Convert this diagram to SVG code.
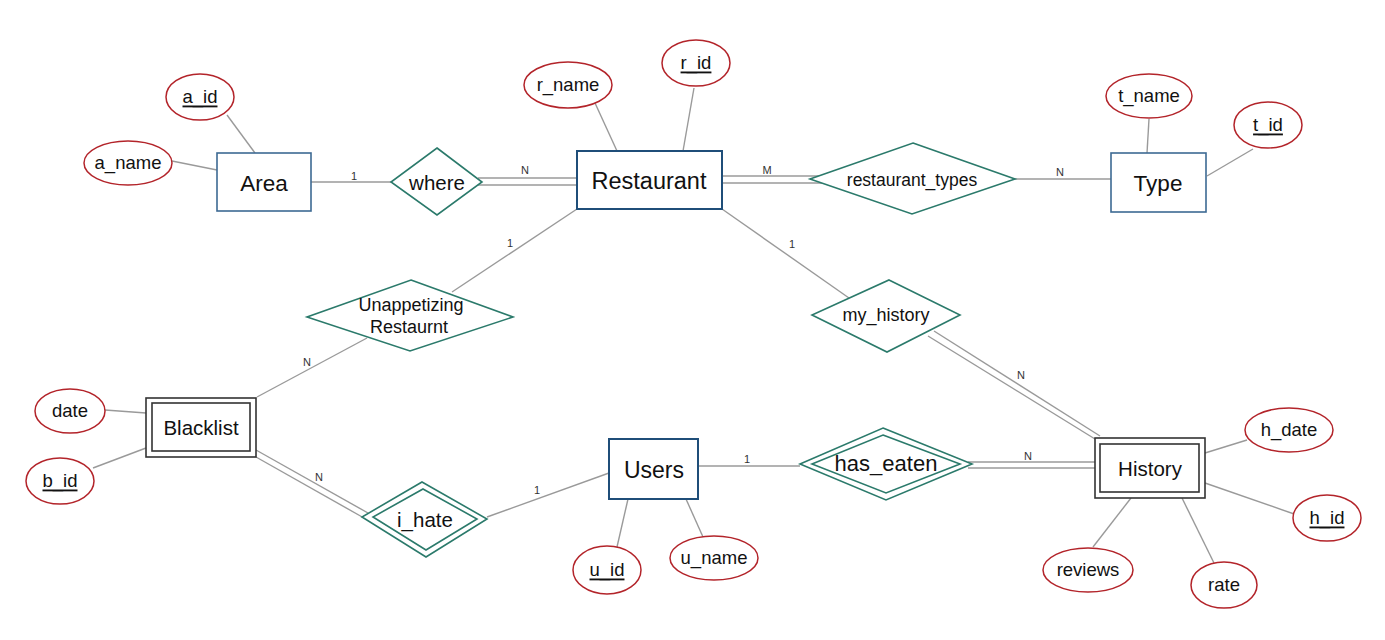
<svg xmlns="http://www.w3.org/2000/svg" width="1385" height="640" viewBox="0 0 1385 640">
<style>
  text { font-family: "Liberation Sans", Arial, sans-serif; fill: #111; text-anchor: middle; dominant-baseline: central; }
  .ent { fill: #fff; stroke: #3d6a93; stroke-width: 1.6; }
  .ent2 { fill: #fff; stroke: #1f4e79; stroke-width: 2; }
  .weak { fill: #fff; stroke: #333; stroke-width: 1.6; }
  .attr { fill: #fff; stroke: #b3242a; stroke-width: 1.5; }
  .rel { fill: #fff; stroke: #2b7a6b; stroke-width: 1.6; }
  .ln { stroke: #9a9a9a; stroke-width: 1.4; fill: none; }
  .big { font-size: 22.5px; }
  .mid { font-size: 20.5px; }
  .att { font-size: 18.5px; }
  .rl { font-size: 18px; }
  .card { font-size: 11px; fill: #333; }
</style>

<g id="connectors">
  <line class="ln" x1="227" y1="115" x2="255" y2="153"/>
  <line class="ln" x1="172" y1="161" x2="217" y2="170"/>
  <line class="ln" x1="311" y1="182" x2="391" y2="182"/>
  <text class="card" x="354" y="176">1</text>
  <line class="ln" x1="478" y1="178" x2="577" y2="178"/>
  <line class="ln" x1="478" y1="185" x2="577" y2="185"/>
  <text class="card" x="525" y="170">N</text>
  <line class="ln" x1="595" y1="103" x2="617" y2="151"/>
  <line class="ln" x1="694" y1="88" x2="683" y2="151"/>
  <line class="ln" x1="722" y1="176" x2="822" y2="176"/>
  <line class="ln" x1="722" y1="183" x2="822" y2="183"/>
  <text class="card" x="767" y="170">M</text>
  <line class="ln" x1="1015" y1="179" x2="1111" y2="179"/>
  <text class="card" x="1060" y="172">N</text>
  <line class="ln" x1="1149" y1="119" x2="1147" y2="153"/>
  <line class="ln" x1="1253" y1="149" x2="1207" y2="176"/>
  <line class="ln" x1="577" y1="209" x2="452" y2="292"/>
  <text class="card" x="510" y="243">1</text>
  <line class="ln" x1="722" y1="209" x2="849" y2="298"/>
  <text class="card" x="792" y="244">1</text>
  <line class="ln" x1="367" y1="338" x2="257" y2="397"/>
  <text class="card" x="307" y="362">N</text>
  <line class="ln" x1="105" y1="410" x2="146" y2="413"/>
  <line class="ln" x1="93" y1="468" x2="146" y2="448"/>
  <line class="ln" x1="256" y1="450" x2="368" y2="513"/>
  <line class="ln" x1="256" y1="457" x2="364" y2="518"/>
  <text class="card" x="319" y="477">N</text>
  <line class="ln" x1="487" y1="517" x2="609" y2="473"/>
  <text class="card" x="537" y="490">1</text>
  <line class="ln" x1="617" y1="547" x2="628" y2="499"/>
  <line class="ln" x1="703" y1="537" x2="686" y2="499"/>
  <line class="ln" x1="698" y1="466" x2="800" y2="466"/>
  <text class="card" x="747" y="459">1</text>
  <line class="ln" x1="968" y1="462" x2="1095" y2="462"/>
  <line class="ln" x1="968" y1="468" x2="1095" y2="468"/>
  <text class="card" x="1028" y="456">N</text>
  <line class="ln" x1="928" y1="336" x2="1095" y2="439"/>
  <line class="ln" x1="934" y1="331" x2="1100" y2="436"/>
  <text class="card" x="1021" y="375">N</text>
  <line class="ln" x1="1247" y1="440" x2="1205" y2="453"/>
  <line class="ln" x1="1297" y1="515" x2="1205" y2="483"/>
  <line class="ln" x1="1093" y1="547" x2="1131" y2="498"/>
  <line class="ln" x1="1214" y1="563" x2="1182" y2="498"/>
</g>

<g id="Area">
  <rect class="ent" x="217" y="153" width="94" height="58"/>
  <text class="big" x="264" y="183">Area</text>
</g>
<g id="a_id">
  <ellipse class="attr" cx="200" cy="97" rx="34" ry="23"/>
  <text class="att" x="200" y="96" text-decoration="underline">a_id</text>
</g>
<g id="a_name">
  <ellipse class="attr" cx="128" cy="163" rx="44" ry="22"/>
  <text class="att" x="128" y="162">a_name</text>
</g>

<g id="where">
  <polygon class="rel" points="437,148 482,182 437,215 391,182"/>
  <text class="mid" x="437" y="182">where</text>
</g>

<g id="Restaurant">
  <rect class="ent2" x="577" y="151" width="145" height="58"/>
  <text class="big" x="649" y="181" style="font-size:23.5px">Restaurant</text>
</g>
<g id="r_name">
  <ellipse class="attr" cx="568" cy="85" rx="44" ry="23"/>
  <text class="att" x="568" y="84">r_name</text>
</g>
<g id="r_id">
  <ellipse class="attr" cx="696" cy="63" rx="34" ry="23"/>
  <text class="att" x="696" y="62" text-decoration="underline">r_id</text>
</g>

<g id="restaurant_types">
  <polygon class="rel" points="913,143 1015,179 912,214 810,179"/>
  <text class="rl" x="912" y="180" style="font-size:17.5px">restaurant_types</text>
</g>

<g id="Type">
  <rect class="ent" x="1111" y="153" width="95" height="59"/>
  <text class="big" x="1158" y="183">Type</text>
</g>
<g id="t_name">
  <ellipse class="attr" cx="1149" cy="96" rx="43" ry="22"/>
  <text class="att" x="1149" y="95">t_name</text>
</g>
<g id="t_id">
  <ellipse class="attr" cx="1268" cy="125" rx="34" ry="23"/>
  <text class="att" x="1268" y="124" text-decoration="underline">t_id</text>
</g>

<g id="Unappetizing_Restaurnt">
  <polygon class="rel" points="411,280 513,317 410,351 307,317"/>
  <text class="rl" x="411" y="305">Unappetizing</text>
  <text class="rl" x="409" y="327">Restaurnt</text>
</g>

<g id="my_history">
  <polygon class="rel" points="889,280 960,315 887,352 812,315"/>
  <text class="rl" x="886" y="315">my_history</text>
</g>

<g id="Blacklist">
  <rect class="weak" x="146" y="398" width="110" height="59"/>
  <rect class="weak" x="152" y="403" width="98" height="48"/>
  <text class="mid" x="201" y="427">Blacklist</text>
</g>
<g id="date">
  <ellipse class="attr" cx="70" cy="411" rx="35" ry="22"/>
  <text class="att" x="70" y="410">date</text>
</g>
<g id="b_id">
  <ellipse class="attr" cx="60" cy="481" rx="34" ry="23"/>
  <text class="att" x="60" y="480" text-decoration="underline">b_id</text>
</g>

<g id="i_hate">
  <polygon class="rel" points="422,482 487,519 426,557 362,517"/>
  <polygon class="rel" points="423,489 477,519 426,550 373,517"/>
  <text class="mid" x="425" y="519">i_hate</text>
</g>

<g id="Users">
  <rect class="ent2" x="609" y="439" width="89" height="60"/>
  <text class="big" x="654" y="470" style="font-size:23px">Users</text>
</g>
<g id="u_id">
  <ellipse class="attr" cx="607" cy="570" rx="34" ry="24"/>
  <text class="att" x="607" y="569" text-decoration="underline">u_id</text>
</g>
<g id="u_name">
  <ellipse class="attr" cx="714" cy="558" rx="44" ry="22"/>
  <text class="att" x="714" y="557">u_name</text>
</g>

<g id="has_eaten">
  <polygon class="rel" points="883,428 972,464 886,500 800,464"/>
  <polygon class="rel" points="883,435 960,464 886,493 812,464"/>
  <text class="mid" x="886" y="463" style="font-size:22px">has_eaten</text>
</g>

<g id="History">
  <rect class="weak" x="1095" y="438" width="110" height="60"/>
  <rect class="weak" x="1100" y="444" width="99" height="48"/>
  <text class="mid" x="1150" y="468">History</text>
</g>
<g id="h_date">
  <ellipse class="attr" cx="1289" cy="430" rx="44" ry="22"/>
  <text class="att" x="1289" y="429">h_date</text>
</g>
<g id="h_id">
  <ellipse class="attr" cx="1327" cy="518" rx="34" ry="23"/>
  <text class="att" x="1327" y="517" text-decoration="underline">h_id</text>
</g>
<g id="reviews">
  <ellipse class="attr" cx="1088" cy="570" rx="45" ry="22"/>
  <text class="att" x="1088" y="569">reviews</text>
</g>
<g id="rate">
  <ellipse class="attr" cx="1224" cy="585" rx="33" ry="23"/>
  <text class="att" x="1224" y="584">rate</text>
</g>
</svg>
